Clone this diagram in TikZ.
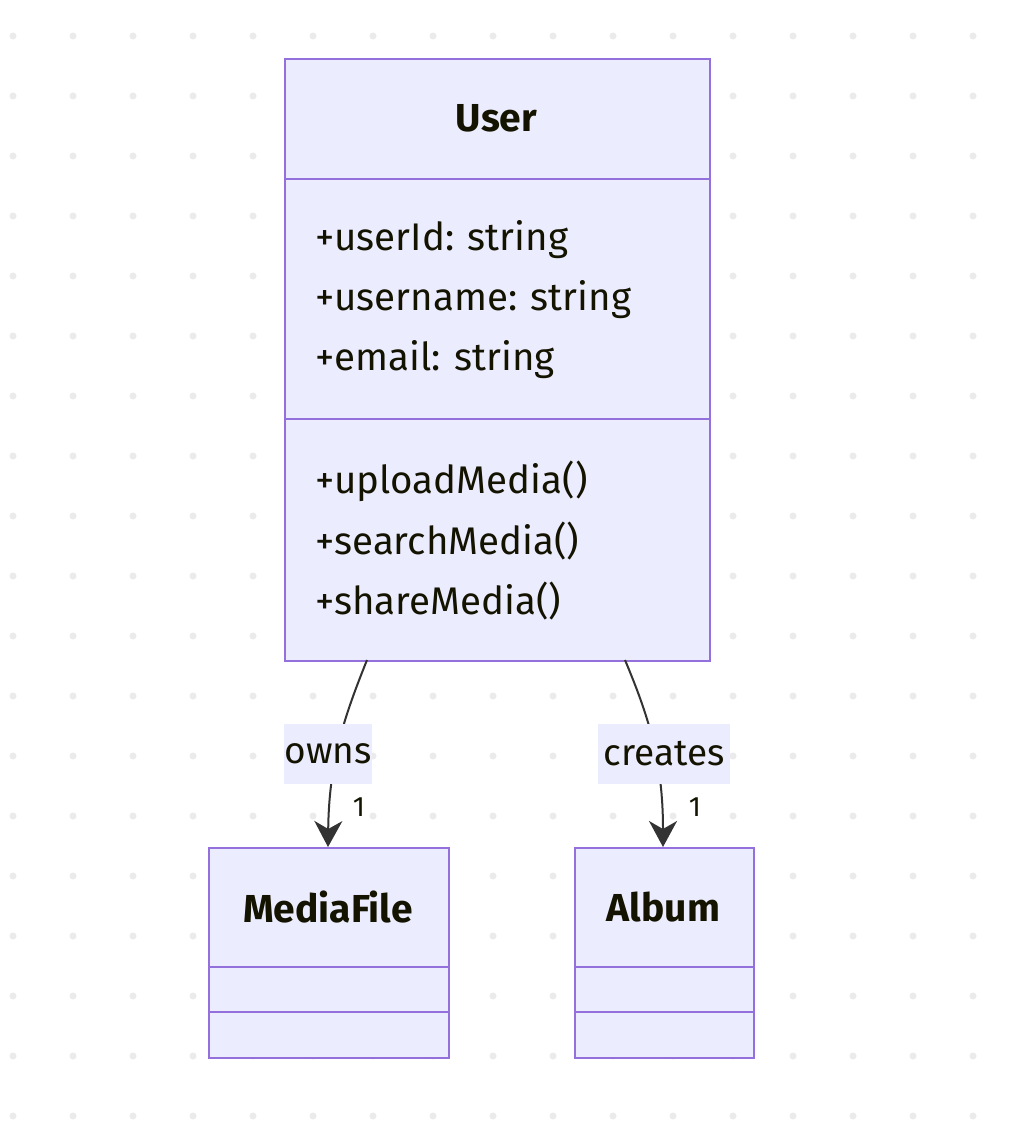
\documentclass[tikz,border=0pt]{standalone}
\usepackage{fontspec}
\setmainfont{Fira Sans}
\usetikzlibrary{arrows.meta}
\definecolor{boxfill}{HTML}{ECECFF}
\definecolor{boxline}{HTML}{9370DB}
\definecolor{edgeline}{HTML}{333333}
\definecolor{txt}{HTML}{131300}
\definecolor{dotc}{HTML}{EBEBEB}
\tikzset{
  x=1pt,y=-1pt,
  classbox/.style={draw=boxline,fill=boxfill,line width=2pt,inner sep=0pt,anchor=north west},
  divider/.style={draw=boxline,line width=2pt},
  ttl/.style={font=\fontsize{39}{44}\selectfont\bfseries,text=txt},
  member/.style={font=\fontsize{38.5}{44}\selectfont,text=txt,anchor=west,inner sep=0pt},
  elabel/.style={fill=boxfill,font=\fontsize{37}{42}\selectfont,text=txt,inner sep=0pt,minimum height=60pt},
  card/.style={font=\fontsize{28}{32}\selectfont,text=txt,inner sep=0pt},
  edge/.style={draw=edgeline,line width=2pt,-{Stealth[inset=8pt,length=26pt,width=28pt]}},
}
\begin{document}
\begin{tikzpicture}
\useasboundingbox (0,0) rectangle (1028,1134);
\fill[white] (0,0) rectangle (1028,1134);
\foreach \i in {0,...,16} \foreach \j in {0,...,18} {
  \fill[dotc] (13+60*\i,36+60*\j) circle (3.5pt);
}
% User
\node[classbox,minimum width=425pt,minimum height=602pt] (user) at (284,58) {};
\draw[divider] (284,179) -- (709,179);
\draw[divider] (284,419) -- (709,419);
\node[ttl] (usert) at (496.5,118) {User};
\node[member] (a1) at (315,240) {+userId: string};
\node[member] (a2) at (315,300) {+username: string};
\node[member] (a3) at (315,360) {+email: string};
\node[member] (m1) at (315,481) {+uploadMedia()};
\node[member] (m2) at (315,541) {+searchMedia()};
\node[member] (m3) at (315,601) {+shareMedia()};
% MediaFile
\node[classbox,minimum width=240pt,minimum height=210pt] (media) at (208,847) {};
\draw[divider] (208,967) -- (448,967);
\draw[divider] (208,1012) -- (448,1012);
\node[ttl] (mediat) at (328,907) {MediaFile};
% Album
\node[classbox,minimum width=179pt,minimum height=210pt] (album) at (574,847) {};
\draw[divider] (574,967) -- (753,967);
\draw[divider] (574,1012) -- (753,1012);
\node[ttl] (albumt) at (663.5,907) {Album};
% edges
\coordinate (u1) at (367,660);
\coordinate (u2) at (625,660);
\coordinate (mtop) at (328,847);
\coordinate (atop) at (663,847);
\draw[edge] (u1) .. controls (345,715) and (329,760) .. (mtop);
\draw[edge] (u2) .. controls (648,715) and (663,760) .. (atop);
\node[elabel,minimum width=88pt] (lowns) at (328,754) {owns};
\node[elabel,minimum width=132pt] (lcreates) at (664,754) {creates};
\node[card] (c1) at (359,807) {1};
\node[card] (c2) at (695,807) {1};
\end{tikzpicture}
\end{document}
